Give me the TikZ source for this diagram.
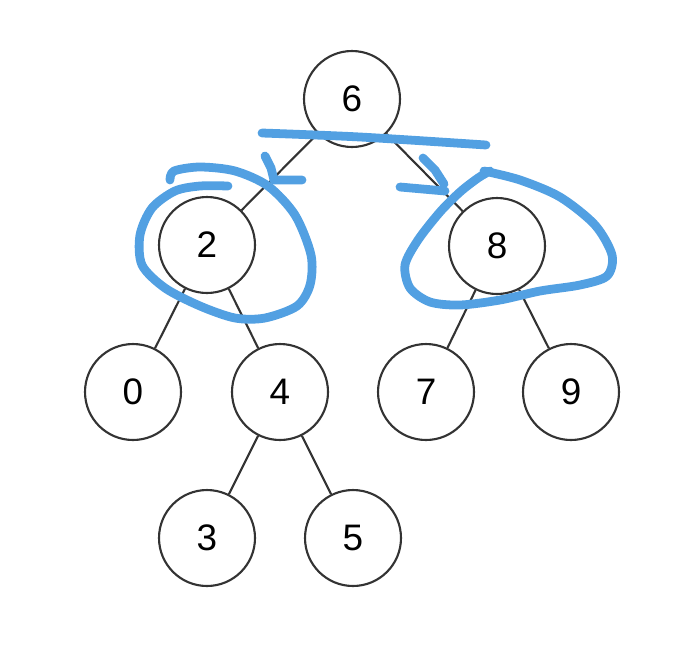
\documentclass[tikz,border=0pt]{standalone}
\usepackage{fontspec}
\setmainfont{Liberation Sans}
\definecolor{penblue}{RGB}{82,160,226}
\begin{document}
\begin{tikzpicture}[x=0.02cm,y=-0.02cm,
  key/.style={draw=black!80,line width=1.2pt,circle,minimum size=1.92cm,inner sep=0pt,
    font=\fontsize{21}{21}\selectfont},
  link/.style={draw=black!80,line width=1.2pt},
  pen/.style={draw=penblue,line width=5pt,line cap=round,line join=round}]
  \useasboundingbox (0,0) rectangle (688,656);

  \node[key] (n6) at (352,99) {6};
  \node[key] (n2) at (207,245) {2};
  \node[key] (n8) at (497,246) {8};
  \node[key] (n0) at (133,392) {0};
  \node[key] (n4) at (280,392) {4};
  \node[key] (n7) at (426,392) {7};
  \node[key] (n9) at (571,392) {9};
  \node[key] (n3) at (207,538) {3};
  \node[key] (n5) at (353,538) {5};

  \draw[link] (n6) -- (n2);
  \draw[link] (n6) -- (n8);
  \draw[link] (n2) -- (n0);
  \draw[link] (n2) -- (n4);
  \draw[link] (n8) -- (n7);
  \draw[link] (n8) -- (n9);
  \draw[link] (n4) -- (n3);
  \draw[link] (n4) -- (n5);

  % pen marks
  \draw[pen] plot[smooth] coordinates {(262,133) (360,137) (486,145)};
  \draw[pen] (265,156) -- (271,168) -- (274,180) -- (302,180);
  \draw[pen] (423,158) -- (435,170) -- (444,184);
  \draw[pen] (400,187) -- (445,191);
  \draw[pen] plot[smooth] coordinates {(170,180) (174,171) (200,167) (235,171) (268,186)
    (295,215) (311,255) (310,285) (297,306) (265,318) (235,318) (200,306) (165,288)
    (142,265) (140,235) (152,208) (175,191) (200,186) (228,186)};
  \draw[pen] plot[smooth] coordinates {(484,171) (520,180) (560,197) (595,225) (612,255)
    (607,276) (580,285) (540,291) (500,300) (460,305) (430,302) (410,288) (405,265)
    (418,240) (440,212) (460,192) (478,178) (490,171)};
\end{tikzpicture}
\end{document}
